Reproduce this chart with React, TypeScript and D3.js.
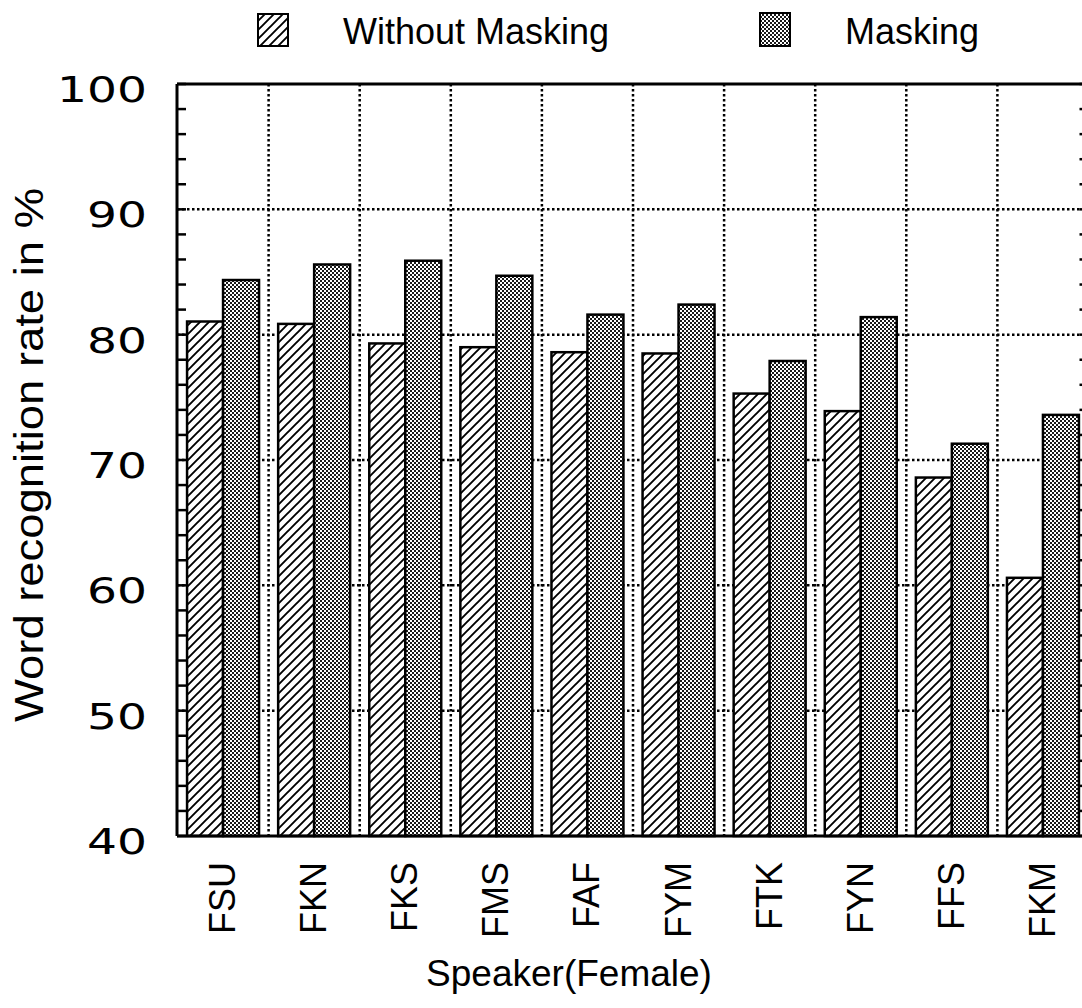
import React from "react";
import * as d3 from "d3";

const speakers = ["FSU", "FKN", "FKS", "FMS", "FAF", "FYM", "FTK", "FYN", "FFS", "FKM"];
const withoutMasking = [81.05, 80.86, 79.3, 79.0, 78.6, 78.5, 75.3, 73.9, 68.6, 60.6];
const masking = [84.36, 85.6, 85.9, 84.7, 81.6, 82.4, 77.9, 81.4, 71.3, 73.6];
const yTicks = [40, 50, 60, 70, 80, 90, 100];
const gridValues = [50, 60, 70, 80, 90];
const minorTicks = d3.range(40, 100.01, 2);
const seriesNames = ["Without Masking", "Masking"];

const W = 1082;
const H = 1008;
const FONT = "'Liberation Sans', Arial, Helvetica, sans-serif";
const TICKFONT = "'DejaVu Sans', Verdana, sans-serif";

export default function App() {
  const top = 84;
  const bottom = 836;
  const left = 177;
  const right = 1088.5;

  const y = d3.scaleLinear().domain([40, 100]).range([bottom, top]);
  const x = d3
    .scaleBand<string>()
    .domain(speakers)
    .range([177.5, 1088.5])
    .paddingInner(0.21)
    .paddingOuter(0.105);
  const bw = x.bandwidth();
  const step = x.step();
  const inner = d3.scaleBand<number>().domain([0, 1]).range([0, bw]);

  const vGrid = speakers.slice(0, -1).map((s) => (x(s) as number) + bw + (step - bw) / 2);

  return (
    <svg
      width={W}
      height={H}
      style={{ position: "absolute", left: 0, top: 0, background: "#fff" }}
      xmlns="http://www.w3.org/2000/svg"
    >
      <defs>
        <pattern id="hatch" width="9" height="9" patternUnits="userSpaceOnUse">
          <rect width="9" height="9" fill="#fff" />
          <path d="M-1,10 L10,-1 M-3,3 L3,-3 M6,12 L12,6" stroke="#000" strokeWidth="1.9" />
        </pattern>
        <pattern id="dots" width="4" height="4" patternUnits="userSpaceOnUse">
          <rect width="4" height="4" fill="#fff" />
          <rect x="0" y="0" width="2" height="2" fill="#1a1a1a" />
          <rect x="2" y="2" width="2" height="2" fill="#1a1a1a" />
        </pattern>
      </defs>

      {/* Legend */}
      <rect x={258} y={14} width={30} height={32} fill="url(#hatch)" stroke="#000" strokeWidth={2} />
      <text x={343} y={44} fontFamily={FONT} fontSize={36} fill="#000">
        {seriesNames[0]}
      </text>
      <rect x={760} y={13} width={30} height={33} fill="url(#dots)" stroke="#000" strokeWidth={2} />
      <text x={845} y={44} fontFamily={FONT} fontSize={36} fill="#000">
        {seriesNames[1]}
      </text>

      {/* Grid */}
      {gridValues.map((v) => (
        <line
          key={"h" + v}
          x1={left}
          x2={right}
          y1={y(v)}
          y2={y(v)}
          stroke="#000"
          strokeWidth={2.5}
          strokeDasharray="2.5,2.5"
        />
      ))}
      {vGrid.map((gx, i) => (
        <line
          key={"v" + i}
          x1={gx}
          x2={gx}
          y1={top}
          y2={bottom}
          stroke="#000"
          strokeWidth={2.5}
          strokeDasharray="2.5,2.5"
        />
      ))}

      {/* Bars */}
      {speakers.map((s, i) => {
        const x0 = x(s) as number;
        return (
          <g key={s}>
            <rect
              x={x0 + (inner(0) as number)}
              y={y(withoutMasking[i])}
              width={inner.bandwidth()}
              height={bottom - y(withoutMasking[i])}
              fill="url(#hatch)"
              stroke="#000"
              strokeWidth={2.5}
            />
            <rect
              x={x0 + (inner(1) as number)}
              y={y(masking[i])}
              width={inner.bandwidth()}
              height={bottom - y(masking[i])}
              fill="url(#dots)"
              stroke="#000"
              strokeWidth={2.5}
            />
          </g>
        );
      })}

      {/* Frame */}
      <line x1={left} x2={right} y1={top} y2={top} stroke="#000" strokeWidth={3} />
      <line x1={left} x2={right} y1={bottom} y2={bottom} stroke="#000" strokeWidth={3} />
      <line x1={left} x2={left} y1={top} y2={bottom} stroke="#000" strokeWidth={3} />
      <line x1={right} x2={right} y1={top} y2={bottom} stroke="#000" strokeWidth={3} />
      {minorTicks.map((v) => (
        <g key={"t" + v}>
          <line x1={left} x2={left + 9} y1={y(v)} y2={y(v)} stroke="#000" strokeWidth={2.5} />
          <line x1={right - 9} x2={right} y1={y(v)} y2={y(v)} stroke="#000" strokeWidth={2.5} />
        </g>
      ))}

      {/* Y tick labels */}
      {yTicks.map((v) => {
        const label = String(v);
        return (
          <text
            key={"yl" + v}
            x={147}
            y={y(v) + 8}
            textAnchor="end"
            dominantBaseline="middle"
            fontFamily={TICKFONT}
            fontSize={35}
            textLength={label.length * 30}
            lengthAdjust="spacingAndGlyphs"
            fill="#000"
          >
            {label}
          </text>
        );
      })}

      {/* Y axis title */}
      <text
        transform={`translate(43, 455) rotate(-90)`}
        textAnchor="middle"
        fontFamily={FONT}
        fontSize={40}
        textLength={534}
        lengthAdjust="spacingAndGlyphs"
        fill="#000"
      >
        Word recognition rate in %
      </text>

      {/* X tick labels */}
      {speakers.map((s) => {
        const cx = (x(s) as number) + bw / 2;
        return (
          <text
            key={"xl" + s}
            transform={`translate(${cx + 12}, 862) rotate(-90)`}
            textAnchor="end"
            fontFamily={FONT}
            fontSize={36}
            fill="#000"
          >
            {s}
          </text>
        );
      })}

      {/* X axis title */}
      <text x={569} y={986} textAnchor="middle" fontFamily={FONT} fontSize={37} fill="#000">
        Speaker(Female)
      </text>
    </svg>
  );
}
